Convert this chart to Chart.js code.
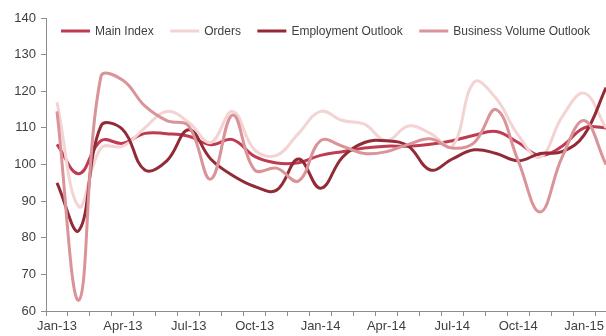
<!DOCTYPE html>
<html>
<head>
<meta charset="utf-8">
<script src="https://cdn.jsdelivr.net/npm/chart.js@4"></script>
<style>
    html, body { margin: 0; padding: 0; background: #fff; overflow: hidden; }
</style>
</head>
<body>
<canvas id="chart" width="620" height="336"></canvas>
<script>
// 月份（最後一個月在原圖被裁掉一半）
const months = ['Jan-13','Feb-13','Mar-13','Apr-13','May-13','Jun-13','Jul-13','Aug-13','Sep-13','Oct-13','Nov-13','Dec-13',
                'Jan-14','Feb-14','Mar-14','Apr-14','May-14','Jun-14','Jul-14','Aug-14','Sep-14','Oct-14','Nov-14','Dec-14',
                'Jan-15','Feb-15'];
const seriesNames = ['Main Index', 'Orders', 'Employment Outlook', 'Business Volume Outlook'];
const mainIndex = [105.5, 97.5, 106.5, 105.8, 108.5, 108.4, 107.7, 105.4, 106.8, 102.2, 100.4, 100.5,
                   102.5, 103.5, 104.5, 105, 105, 105.5, 106.5, 108, 109, 106, 102.5, 105, 110, 110];
const orders = [117, 88.5, 104.5, 105, 110, 114.5, 111.5, 106, 114.5, 104, 102.5, 108.5,
                114.5, 112, 111, 106.5, 110.5, 108.5, 105, 122.5, 118, 108, 102, 113, 119.5, 110];
const employment = [95, 82, 110.5, 109.5, 98.5, 101, 109.5, 101.5, 97, 94, 93, 101.5,
                    93.5, 102, 106, 106.5, 105, 98.5, 101.5, 104, 103, 101, 103, 103.5, 108, 121];
const business = [114.5, 63, 124, 123, 116, 112, 110.5, 96, 113.5, 98.5, 99, 95.5,
                  106.5, 105, 103, 103.5, 105.5, 107, 104.5, 106, 115, 101, 87, 102, 112, 100];
const yTicks = { min: 60, max: 140, step: 10 };

const colors = ['#BF3B52', '#F4D3D3', '#922B35', '#DA9398'];
const seriesData = [mainIndex, orders, employment, business];

// 圖例畫在圖表區內
const insideLegend = {
    id: 'insideLegend',
    afterDraw(chart) {
        const ctx = chart.ctx;
        ctx.save();
        ctx.font = '12px "Liberation Sans"';
        ctx.textBaseline = 'middle';
        const lineLen = 29, textGap = 5, itemGap = 16.5;
        const widths = seriesNames.map(n => lineLen + textGap + ctx.measureText(n).width);
        const total = widths.reduce((a, b) => a + b) + itemGap * (widths.length - 1);
        let x = 325.5 - total / 2;
        const y = 31;
        seriesNames.forEach((name, i) => {
            ctx.strokeStyle = colors[i];
            ctx.lineWidth = 3;
            ctx.beginPath();
            ctx.moveTo(x, y);
            ctx.lineTo(x + lineLen, y);
            ctx.stroke();
            ctx.fillStyle = '#404040';
            ctx.fillText(name, x + lineLen + textGap, y + 0.5);
            x += widths[i] + itemGap;
        });
        ctx.restore();
    }
};

new Chart(document.getElementById('chart'), {
    type: 'line',
    data: {
        labels: months,
        datasets: seriesData.map((d, i) => ({
            label: seriesNames[i],
            data: d,
            borderColor: colors[i],
            backgroundColor: colors[i],
            borderWidth: 3,
            pointRadius: 0,
            tension: 0.4,
            fill: false,
            order: seriesData.length - i   // Excel 後面的系列畫在上面
        }))
    },
    options: {
        responsive: false,
        animation: false,
        devicePixelRatio: 1,
        layout: { padding: { top: 18, right: 3, left: 0, bottom: 0 } },
        plugins: {
            legend: { display: false },
            tooltip: { enabled: false }
        },
        scales: {
            x: {
                offset: true,
                grid: {
                    offset: true,
                    drawOnChartArea: false,
                    drawTicks: true,
                    tickLength: 5,
                    tickColor: '#8c8c8c'
                },
                border: { color: '#8c8c8c', width: 1 },
                ticks: {
                    autoSkip: false,
                    maxRotation: 0,
                    padding: 3,
                    color: '#404040',
                    font: { family: 'Liberation Sans', size: 13 },
                    callback: function(value, index) {
                        return index % 3 === 0 ? months[index] : '';
                    }
                },
                afterFit(scale) { scale.height = 25; }
            },
            y: {
                min: yTicks.min,
                max: yTicks.max,
                grid: {
                    drawOnChartArea: false,
                    drawTicks: true,
                    tickLength: 5,
                    tickColor: '#8c8c8c'
                },
                border: { color: '#8c8c8c', width: 1 },
                ticks: {
                    stepSize: yTicks.step,
                    padding: 5,
                    color: '#404040',
                    font: { family: 'Liberation Sans', size: 13 }
                },
                afterFit(scale) { scale.width = 46; }
            }
        }
    },
    plugins: [insideLegend]
});
</script>
</body>
</html>
